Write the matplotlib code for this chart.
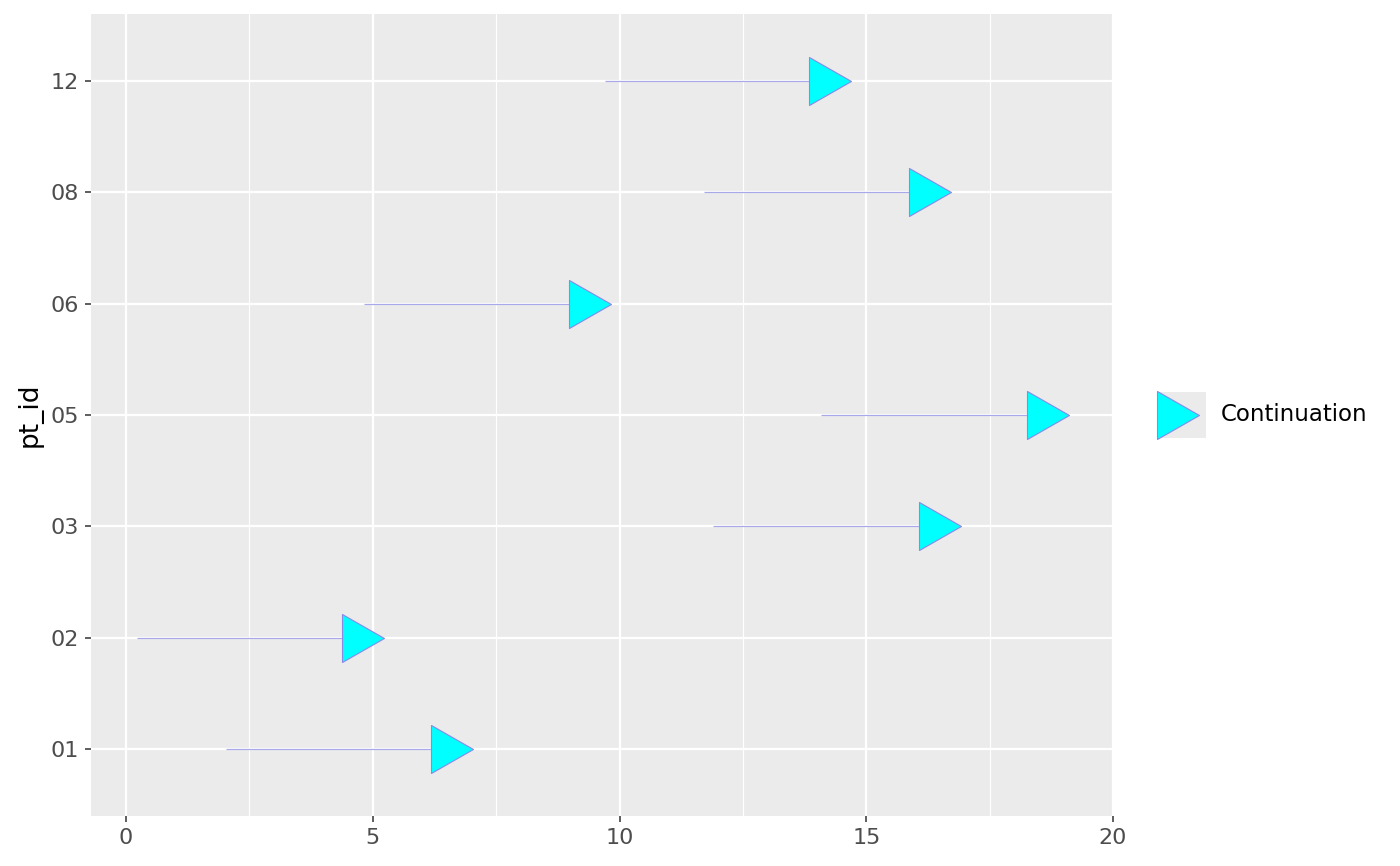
import matplotlib.pyplot as plt
from matplotlib.path import Path
from matplotlib.ticker import MultipleLocator

# patient rows and the start/end of each continuation segment
pt_id = ['01', '02', '03', '05', '06', '08', '12']
start = [2.03, 0.22, 11.89, 14.08, 4.82, 11.71, 9.71]
end = [6.18, 4.38, 16.07, 18.26, 8.98, 15.87, 13.84]
x_ticks = [0, 5, 10, 15, 20]

# triangle whose left edge sits on the data point
tri = Path([(0, -1), (0, 1), (1.75, 0), (0, -1)],
           [Path.MOVETO, Path.LINETO, Path.LINETO, Path.CLOSEPOLY])

seg_col = '#a9a9ea'
edge_col = '#8a8ae6'
fill_col = '#00ffff'

fig = plt.figure(figsize=(14, 8.66), dpi=100)
ax = fig.add_axes([91 / 1400, 50 / 866, (1113 - 91) / 1400, (816 - 14) / 866])
ax.set_facecolor('#ebebeb')

ypos = list(range(len(pt_id)))
ax.hlines(ypos, start, end, colors=seg_col, linewidth=0.9, zorder=3)
ax.scatter(end, ypos, marker=tri, s=60.5 ** 2, facecolor=fill_col,
           edgecolor=edge_col, linewidth=0.8, zorder=4)

ax.set_xlim(-0.71, 19.96)
ax.set_ylim(-0.6, len(pt_id) - 0.4)
ax.set_xticks(x_ticks)
ax.xaxis.set_minor_locator(MultipleLocator(2.5))
ax.set_yticks(ypos)
ax.set_yticklabels(pt_id)

ax.grid(which='major', color='white', linewidth=1.6, zorder=0)
ax.grid(which='minor', axis='x', color='white', linewidth=0.8, zorder=0)
ax.set_axisbelow(True)
for s in ax.spines.values():
    s.set_visible(False)
ax.tick_params(which='major', length=4.5, width=1.1, color='#333333',
               labelsize=16, labelcolor='#4d4d4d', pad=4.5)
ax.tick_params(which='minor', length=0)
ax.set_ylabel('pt_id', fontsize=19, labelpad=5)

# legend key
kax = fig.add_axes([1157 / 1400, (866 - 438) / 866, 49 / 1400, 46 / 866])
kax.set_facecolor('#ebebeb')
kax.set_xlim(0, 1)
kax.set_ylim(0, 1)
kax.scatter([0], [0.5], marker=tri, s=60.5 ** 2, facecolor=fill_col,
            edgecolor=edge_col, linewidth=0.8, clip_on=False, zorder=4)
kax.set_xticks([])
kax.set_yticks([])
for s in kax.spines.values():
    s.set_visible(False)
fig.text(1221 / 1400, (866 - 415) / 866, 'Continuation', fontsize=16.5,
         va='center', ha='left', color='black')

fig.savefig('out.png', dpi=100)
